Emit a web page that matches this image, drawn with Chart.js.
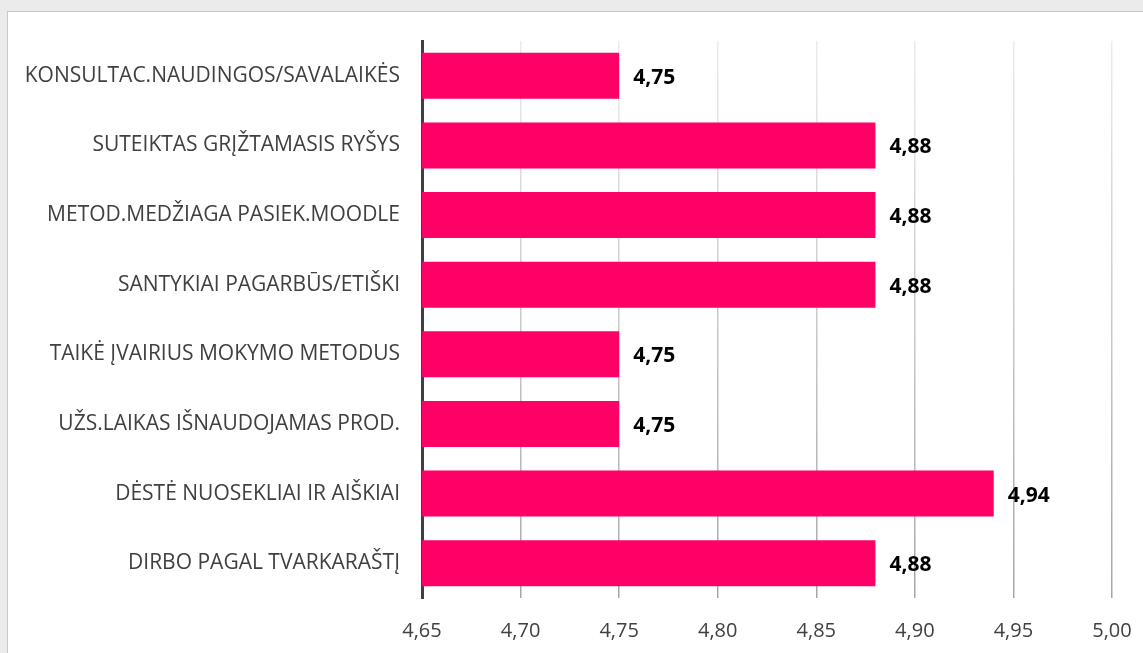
<!DOCTYPE html>
<html>
<head>
<meta charset="utf-8">
<script src="https://cdn.jsdelivr.net/npm/chart.js@4.4.1/dist/chart.umd.min.js"></script>
<style>
  html, body { margin: 0; padding: 0; background: #ebebeb; overflow: hidden; }
  #card {
    position: absolute; left: 7px; top: 11px;
    width: 1150px; height: 660px;
    background: #fff; border: 1px solid #c8c8c8;
  }
  #wrap { position: absolute; left: 0; top: 0; width: 1136px; height: 642px; }
</style>
</head>
<body>
<div id="card"><div id="wrap"><canvas id="chartVertinimas"></canvas></div></div>
<script>
const kategorijos = [
  "KONSULTAC.NAUDINGOS/SAVALAIKĖS",
  "SUTEIKTAS GRĮŽTAMASIS RYŠYS",
  "METOD.MEDŽIAGA PASIEK.MOODLE",
  "SANTYKIAI PAGARBŪS/ETIŠKI",
  "TAIKĖ ĮVAIRIUS MOKYMO METODUS",
  "UŽS.LAIKAS IŠNAUDOJAMAS PROD.",
  "DĖSTĖ NUOSEKLIAI IR AIŠKIAI",
  "DIRBO PAGAL TVARKARAŠTĮ"
];
const vertinimai = [4.75, 4.88, 4.88, 4.88, 4.75, 4.75, 4.94, 4.88];
const ašiesMin = 4.65;
const ašiesMax = 5.00;
const ašiesŽingsnis = 0.05;

const kablelis = v => Number(v).toFixed(2).replace(".", ",");

// reikšmių etiketės prie stulpelių galų
const etiketes = {
  id: "etiketes",
  afterDatasetsDraw(chart) {
    const ctx = chart.ctx;
    const meta = chart.getDatasetMeta(0);
    ctx.save();
    ctx.font = "bold 21px 'Open Sans'";
    ctx.fillStyle = "#000";
    ctx.textAlign = "left";
    ctx.textBaseline = "middle";
    meta.data.forEach((bar, i) => {
      ctx.fillText(kablelis(vertinimai[i]), bar.x + 14, bar.y + 2);
    });
    ctx.restore();
  }
};

// tinklelio linijos: šviesesnės viršuje, tamsesnės apačioje
function tinklelis(context) {
  const chart = context.chart;
  const area = chart.chartArea;
  if (!area) return "#c0c0c0";
  const g = chart.ctx.createLinearGradient(0, area.top, 0, area.bottom);
  g.addColorStop(0, "#ececec");
  g.addColorStop(1, "#a6a6a6");
  return g;
}

new Chart(document.getElementById("chartVertinimas"), {
  type: "bar",
  data: {
    labels: kategorijos,
    datasets: [{
      data: vertinimai,
      backgroundColor: "#ff0066",
      borderWidth: 0,
      barPercentage: 0.66,
      categoryPercentage: 1
    }]
  },
  options: {
    indexAxis: "y",
    responsive: true,
    maintainAspectRatio: false,
    animation: false,
    layout: { padding: { top: 29, right: 32, left: 0, bottom: 0 } },
    plugins: { legend: { display: false }, tooltip: { enabled: false } },
    scales: {
      x: {
        min: ašiesMin,
        max: ašiesMax,
        ticks: {
          stepSize: ašiesŽingsnis,
          padding: 21,
          color: "#404040",
          font: { family: "'Open Sans'", size: 20 },
          callback: v => kablelis(v)
        },
        grid: { color: tinklelis, lineWidth: 1.5, drawTicks: false },
        border: { display: false },
        afterFit: s => { s.height = 56; s.paddingLeft = 0; s.paddingRight = 0; }
      },
      y: {
        ticks: {
          padding: 22,
          color: "#404040",
          font: { family: "'Open Sans'", size: 21 }
        },
        grid: { display: false, drawTicks: false },
        border: { display: true, color: "#404040", width: 3 },
        afterFit: s => { s.width = 414; s.paddingTop = 0; s.paddingBottom = 0; }
      }
    }
  },
  plugins: [etiketes]
});
</script>
</body>
</html>
